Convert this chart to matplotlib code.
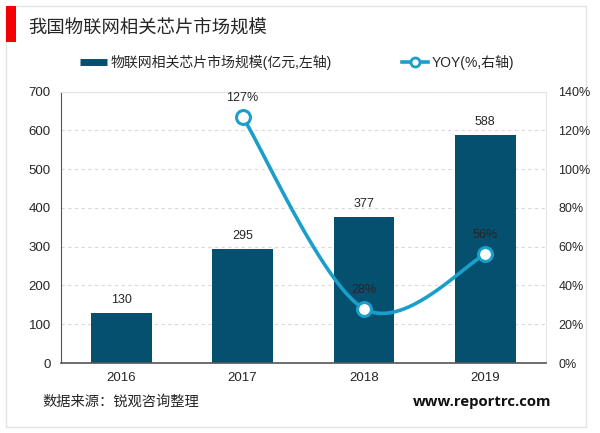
import numpy as np
import matplotlib.pyplot as plt
from matplotlib.patches import Rectangle
from matplotlib.lines import Line2D

plt.rcParams['font.family'] = ['Liberation Sans', 'Noto Sans CJK SC', 'DejaVu Sans']

years = ['2016', '2017', '2018', '2019']
market = [130, 295, 377, 588]
yoy_years = [1, 2, 3]
yoy = [127, 28, 56]

W, H = 600, 433
bar_color = '#04506E'
line_color = '#1A9FCB'
text_color = '#262626'


def smooth(x, y, n=60):
    # catmull-rom style smoothing, like the office "smooth line" option
    x = np.array(x, float)
    y = np.array(y, float)
    xs, ys = [], []
    for i in range(len(x) - 1):
        p0 = max(i - 1, 0)
        p3 = min(i + 2, len(x) - 1)
        c1x = x[i] + (x[i + 1] - x[p0]) / 6
        c1y = y[i] + (y[i + 1] - y[p0]) / 6
        c2x = x[i + 1] - (x[p3] - x[i]) / 6
        c2y = y[i + 1] - (y[p3] - y[i]) / 6
        t = np.linspace(0, 1, n)
        xs.append((1-t)**3*x[i] + 3*(1-t)**2*t*c1x + 3*(1-t)*t**2*c2x + t**3*x[i + 1])
        ys.append((1-t)**3*y[i] + 3*(1-t)**2*t*c1y + 3*(1-t)*t**2*c2y + t**3*y[i + 1])
    return np.concatenate(xs), np.concatenate(ys)


fig = plt.figure(figsize=(W / 100, H / 100), dpi=100)

# outer frame and red title block
fig.add_artist(Rectangle((6 / W, 1 - 427 / H), 580 / W, 421 / H, transform=fig.transFigure,
                         fc='white', ec='#E4E4E4', lw=1, zorder=-2))
fig.add_artist(Rectangle((6 / W, 1 - 42 / H), 10 / W, 36 / H, transform=fig.transFigure,
                         fc='#F40000', ec='none', zorder=-1))
fig.text(28 / W, 1 - 29 / H, '我国物联网相关芯片市场规模', fontsize=13.2, color=text_color, va='center')

ax = fig.add_axes([60.5 / W, 1 - 363 / H, 485.5 / W, 271.5 / H])
ax.patch.set_alpha(0)
x = np.arange(len(years))
ax.bar(x, market, width=0.5, color=bar_color, zorder=2)
ax.set_xlim(-0.5, 3.5)
ax.set_ylim(0, 700)
ax.set_yticks(range(0, 701, 100))
ax.set_xticks(x, years)
ax.grid(axis='y', color='#D9D9D9', ls=(0, (3, 3)), lw=0.8, zorder=1)
ax.tick_params(axis='y', length=0, labelsize=9.5, labelcolor=text_color, pad=7)
ax.tick_params(axis='x', length=0, labelsize=9.5, labelcolor=text_color, pad=6.5)
ax.spines['top'].set_color('#E4E4E4')
ax.spines['right'].set_color('#E4E4E4')
ax.spines['left'].set_color('#555555')
ax.spines['bottom'].set_color('#555555')
ax.spines['bottom'].set_linewidth(1.2)

for xi, v in zip(x, market):
    ax.annotate(str(v), (xi, v), xytext=(0, 5), textcoords='offset points', ha='center',
                va='bottom', fontsize=9, color=text_color)

ax2 = ax.twinx()
ax2.set_ylim(0, 140)
ax2.set_yticks(range(0, 141, 20))
ax2.set_yticklabels([f'{v}%' for v in range(0, 141, 20)])
ax2.tick_params(axis='y', length=0, labelsize=9, labelcolor=text_color, pad=9)
for s in ax2.spines.values():
    s.set_visible(False)
sx, sy = smooth(yoy_years, yoy)
ax2.plot(sx, sy, color=line_color, lw=2.6, zorder=3, solid_capstyle='round')
ax2.plot(yoy_years, yoy, ls='none', marker='o', ms=10, mfc='white', mec=line_color, mew=2.2, zorder=4)
for xi, v in zip(yoy_years, yoy):
    ax2.annotate(f'{v}%', (xi, v), xytext=(0, 9.5), textcoords='offset points', ha='center',
                 va='bottom', fontsize=9, color=text_color, zorder=5)

handles = [Line2D([], [], color=bar_color, lw=5, solid_capstyle='butt'),
           Line2D([], [], color=line_color, lw=2.6, marker='o', ms=6.5, mfc='white', mec=line_color, mew=2)]
fig.legend(handles, ['物联网相关芯片市场规模(亿元,左轴)', 'YOY(%,右轴)'], ncol=2, frameon=False,
           loc='center', bbox_to_anchor=(297.5 / W, 1 - 62 / H), fontsize=10, labelcolor=text_color,
           handlelength=1.9, handletextpad=0.3, columnspacing=5.0)

fig.text(42 / W, 1 - 402 / H, '数据来源：锐观咨询整理', fontsize=10.3, color=text_color, va='center')
fig.text(551 / W, 1 - 402 / H, 'www.reportrc.com', fontsize=10.7, fontweight='bold', color='#111111',
         va='center', ha='right', family='Open Sans')

fig.savefig('out.png', dpi=100)
